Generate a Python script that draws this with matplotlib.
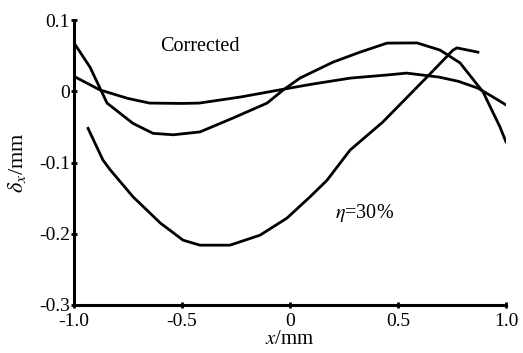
import numpy as np
import matplotlib
matplotlib.use('Agg')
import matplotlib.pyplot as plt

plt.rcParams['font.family'] = ['Liberation Serif', 'DejaVu Serif']
plt.rcParams['mathtext.fontset'] = 'stix'

# Flat curve
xa = [-1.0, -0.88, -0.75, -0.65, -0.5, -0.42, -0.23, -0.03, 0.1, 0.28, 0.45, 0.54, 0.69, 0.78, 0.87, 0.94, 1.0]
ya = [0.021, 0.002, -0.010, -0.0165, -0.017, -0.0165, -0.008, 0.003, 0.010, 0.0186, 0.023, 0.0256, 0.020, 0.014, 0.0045, -0.008, -0.019]

# Corrected curve (hump)
xb = [-1.0, -0.926, -0.847, -0.727, -0.634, -0.54, -0.417, -0.264, -0.106, -0.032, 0.046, 0.199, 0.324, 0.449, 0.588, 0.694, 0.787, 0.894, 0.972, 1.0]
yb = [0.068, 0.034, -0.0165, -0.045, -0.059, -0.061, -0.057, -0.0375, -0.0165, 0.0018, 0.0186, 0.041, 0.055, 0.0677, 0.068, 0.058, 0.040, -0.001, -0.050, -0.071]

# eta = 30% curve
xc = [-0.935, -0.866, -0.833, -0.727, -0.60, -0.495, -0.417, -0.278, -0.139, -0.014, 0.093, 0.171, 0.278, 0.43, 0.634, 0.755, 0.773, 0.87]
yc = [-0.052, -0.0965, -0.11, -0.148, -0.185, -0.209, -0.216, -0.216, -0.202, -0.178, -0.148, -0.125, -0.0825, -0.043, 0.020, 0.058, 0.061, 0.055]

xticks = [-1.0, -0.5, 0, 0.5, 1.0]
xtick_labels = ['-1.0', '-0.5', '0', '0.5', '1.0']
yticks = [-0.3, -0.2, -0.1, 0, 0.1]
ytick_labels = ['-0.3', '-0.2', '-0.1', '0', '0.1']

fig = plt.figure(figsize=(5.23, 3.53), dpi=100)
ax = fig.add_axes([0.1415, 0.136, 0.826, 0.807])

for xs, ys in [(xa, ya), (xb, yb), (xc, yc)]:
    ax.plot(xs, ys, color='black', lw=2.0, solid_joinstyle='round')

ax.set_xlim(-1.0, 1.0)
ax.set_ylim(-0.3, 0.1)
ax.set_xticks(xticks)
ax.set_xticklabels(xtick_labels)
ax.set_yticks(yticks)
ax.set_yticklabels(ytick_labels)

for s in ['top', 'right']:
    ax.spines[s].set_visible(False)
for s in ['left', 'bottom']:
    ax.spines[s].set_linewidth(2.2)

ax.tick_params(direction='inout', length=4, width=2, labelsize=14)
ax.tick_params(axis='x', pad=4)
ax.tick_params(axis='y', pad=1)

ax.set_xlabel(r'$x$/mm', fontsize=15, labelpad=0)
ax.set_ylabel(r'$\delta_x$/mm', fontsize=16, labelpad=8)

ax.text(-0.6, 0.063, 'Corrected', fontsize=14.5, va='center', ha='left')
ax.text(0.208, -0.171, r'$\eta$=30%', fontsize=14.5, va='center', ha='left')

fig.savefig('out.png', dpi=100)
